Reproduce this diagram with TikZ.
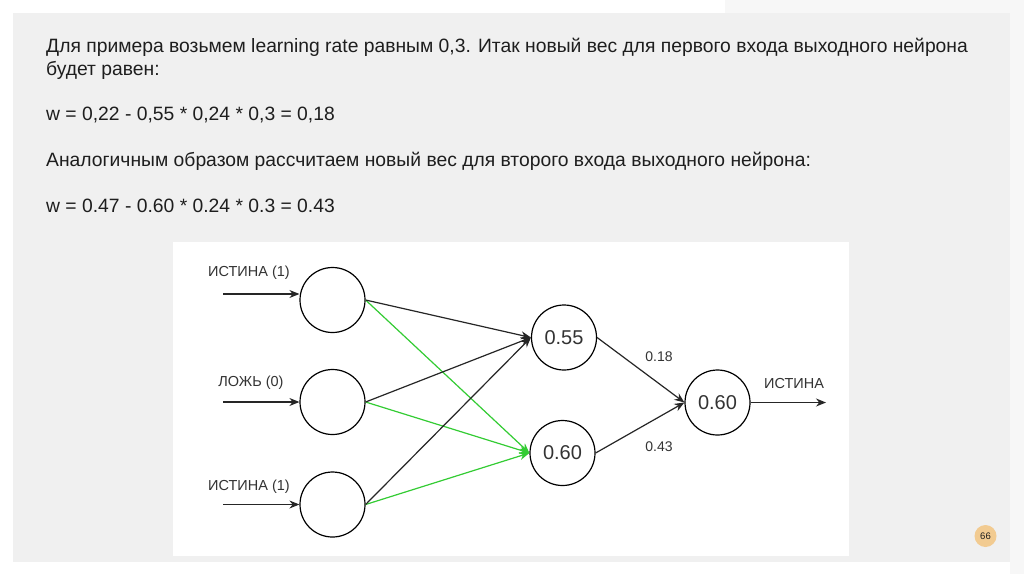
\documentclass[tikz,border=0pt]{standalone}
\usepackage{fontspec}
\setmainfont{Liberation Sans}
\usetikzlibrary{arrows.meta}
\definecolor{panel}{HTML}{F0F0F0}
\definecolor{txt}{HTML}{1E1E1E}
\definecolor{dtxt}{HTML}{333333}
\definecolor{lgreen}{HTML}{33CC33}
\definecolor{badge}{HTML}{F2CB91}
\tikzset{
  neuron/.style={circle,draw=black,line width=1.2pt,minimum size=65pt,inner sep=0pt,fill=white,font=\fontsize{20}{20}\selectfont,text=dtxt},
  body/.style={anchor=base west,inner sep=0pt,text=txt,font=\fontsize{19.3}{22}\selectfont},
  lbl/.style={inner sep=0pt,text=dtxt,font=\fontsize{14.5}{15}\selectfont},
  wlbl/.style={inner sep=0pt,text=dtxt,font=\fontsize{14}{15}\selectfont},
  blk/.style={draw=black!85,line width=1.2pt,-{Stealth[length=10pt,width=8pt]}},
  grn/.style={draw=lgreen,line width=1.2pt,-{Stealth[length=10pt,width=8pt]}},
}
\begin{document}
\begin{tikzpicture}[x=1pt,y=-1pt]
\useasboundingbox (0,0) rectangle (1024,574);
\fill[white] (0,0) rectangle (1024,574);
\fill[white!97!black] (725,0) rectangle (1024,13);
\fill[white!97!black] (1010,0) rectangle (1024,574);
\fill[panel] (13,13) rectangle (1010,562);
\fill[white] (173,242) rectangle (849,556);

\node[body] (t1) at (46,52.7) {Для примера возьмем learning rate равным 0,3. Итак новый вес для первого входа выходного нейрона};
\node[body] (t2) at (46,75) {будет равен:};
\node[body] (t3) at (46,120.7) {w = 0,22 - 0,55 * 0,24 * 0,3 = 0,18};
\node[body] (t4) at (46,166.7) {Аналогичным образом рассчитаем новый вес для второго входа выходного нейрона:};
\node[body] (t5) at (46,212.7) {w = 0.47 - 0.60 * 0.24 * 0.3 = 0.43};

\node[neuron] (i1) at (332.5,300) {};
\node[neuron] (i2) at (332.5,402) {};
\node[neuron] (i3) at (332.5,504.5) {};
\node[neuron] (h1) at (564,337.5) {0.55};
\node[neuron] (h2) at (562.5,453) {0.60};
\node[neuron] (o) at (717.5,402.5) {0.60};

\coordinate (a1) at (223,294);
\coordinate (a2) at (223,402);
\coordinate (a3) at (223,504.5);
\coordinate (out) at (826,402.5);

\node[lbl] (l1) at (249,273) {ИСТИНА (1)};
\node[lbl] (l2) at (251,383) {ЛОЖЬ (0)};
\node[lbl] (l3) at (249,487) {ИСТИНА (1)};
\node[lbl] (l4) at (794,383) {ИСТИНА};

\draw[blk] (a1) -- (i1.west |- a1);
\draw[blk] (a2) -- (i2.west);
\draw[blk] (a3) -- (i3.west);

\draw[grn] (i1.east) -- (h2.west);
\draw[grn] (i2.east) -- (h2.west);
\draw[grn] (i3.east) -- (h2.west);
\draw[blk] (i1.east) -- (h1.west);
\draw[blk] (i2.east) -- (h1.west);
\draw[blk] (i3.east) -- (h1.west);

\draw[blk] (h1.east) -- (o.west);
\draw[blk] (h2.east) -- (o.west);
\draw[blk] (o.east) -- (out);

\node[wlbl] (w1) at (659,357) {0.18};
\node[wlbl] (w2) at (659,447) {0.43};

\node[circle,fill=badge,minimum size=22pt,inner sep=0pt,text=txt,font=\fontsize{9.5}{10}\selectfont] (pg) at (985.5,536) {66};
\end{tikzpicture}
\end{document}
